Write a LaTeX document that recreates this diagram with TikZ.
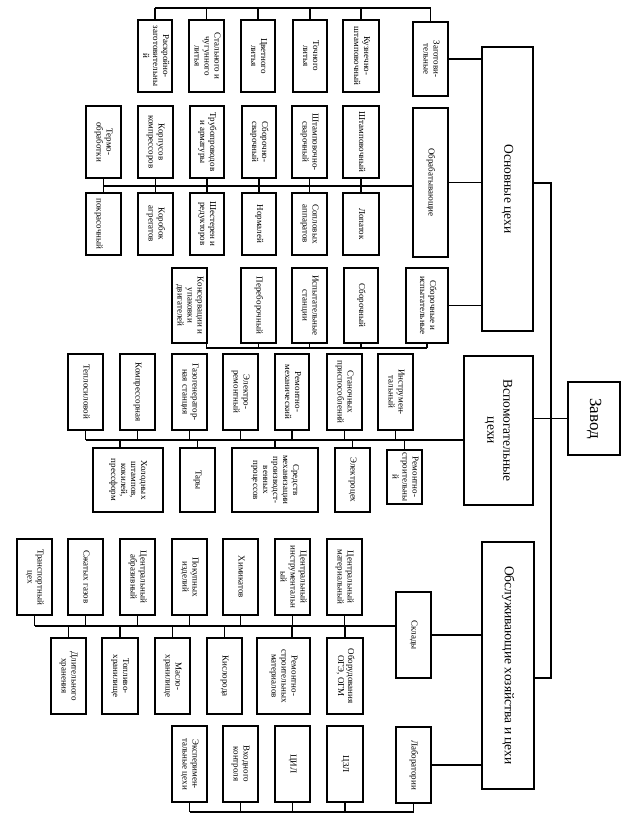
\documentclass[tikz,border=0pt]{standalone}
\usepackage{fontspec}
\setmainfont{Liberation Serif}
\tikzset{
  box/.style={draw, line width=1.1pt, inner sep=0pt, rectangle, font=\fontsize{9}{10}\selectfont},
  bigbox/.style={box, font=\fontsize{13.5}{16}\selectfont},
  ln/.style={line width=1.1pt}
}
\newcommand\rt[1]{\rotatebox{-90}{\begin{tabular}{@{}c@{}}#1\end{tabular}}}
\newcommand\NB[7][box]{\node[#1, minimum width={(#5-#3)*1pt}, minimum height={(#6-#4)*1pt}] (#2) at ({(#3+#5)/2},{(#4+#6)/2}) {\rt{#7}};}
\begin{document}
\begin{tikzpicture}[x=1pt,y=-1pt]
\useasboundingbox (0,0) rectangle (636,822);
% Row A
\NB{rA1}{138}{20}{172}{92}{Раскройно-\\заготовительны\\й}
\NB{rA2}{189}{20}{224}{92}{Стального и\\чугунного\\литья}
\NB{rA3}{241}{20}{275}{92}{Цветного\\литья}
\NB{rA4}{293}{20}{327}{92}{Точного\\литья}
\NB{rA5}{343}{20}{379}{92}{Кузнечно-\\штамповочный}
\NB{zag}{413}{22}{448}{96}{Заготови-\\тельные}
\NB[bigbox]{osn}{482}{47}{533}{331}{Основные цехи}
% Row B upper
\NB{rB1}{86}{106}{121}{178}{Термо-\\обработки}
\NB{rB2}{138}{106}{173}{178}{Корпусов\\компрессоров}
\NB{rB3}{190}{106}{224}{178}{Трубопроводов\\и арматуры}
\NB{rB4}{242}{106}{276}{178}{Сборочно-\\сварочный}
\NB{rB5}{292}{106}{327}{178}{Штамповочно-\\сварочный}
\NB{rB6}{343}{106}{379}{178}{Штамповочный}
\NB{obr}{413}{108}{448}{257}{Обрабатывающие}
% Row B lower
\NB{rb1}{86}{193}{121}{255}{\\покрасочный}
\NB{rb2}{138}{193}{173}{255}{Коробок\\агрегатов}
\NB{rb3}{190}{193}{224}{255}{Шестерен и\\редукторов}
\NB{rb4}{242}{193}{276}{255}{Нормалей}
\NB{rb5}{292}{193}{327}{255}{Сопловых\\аппаратов}
\NB{rb6}{343}{193}{379}{255}{Лопаток}
% Row C
\NB{rC1}{172}{268}{207}{343}{Консервации и\\упаковки\\двигателей}
\NB{rC2}{241}{268}{276}{343}{Переборочный}
\NB{rC3}{292}{268}{327}{343}{Испытательные\\станции}
\NB{rC4}{344}{268}{378}{343}{Сборочный}
\NB{sbi}{406}{268}{448}{343}{Сборочные и\\испытательные}
% Row D upper
\NB{rD1}{68}{354}{103}{430}{Теплосиловой}
\NB{rD2}{120}{354}{155}{430}{Компрессорная}
\NB{rD3}{172}{354}{207}{430}{Газогенератор-\\ная станция}
\NB{rD4}{223}{354}{258}{430}{Электро-\\ремонтный}
\NB{rD5}{275}{354}{309}{430}{Ремонтно-\\механический}
\NB{rD6}{327}{354}{362}{430}{Станочных\\приспособлений}
\NB{rD7}{378}{354}{413}{430}{Инструмен-\\тальный}
\NB[bigbox]{vsp}{464}{356}{533}{505}{Вспомогательные\\цехи}
% Row D lower
\NB{rd1}{93}{448}{163}{512}{Холодных\\штампов,\\кокилей,\\прессформ}
\NB{rd2}{180}{448}{215}{512}{Тары}
\NB{rd3}{232}{448}{318}{512}{Средств\\механизации\\производст-\\венных\\процессов}
\NB{rd4}{335}{448}{370}{512}{Электроцех}
\NB{rd5}{387}{450}{422}{504}{Ремонтно-\\строительны\\й}
% Top level
\node[box, font=\fontsize{17}{20}\selectfont, minimum width=52pt, minimum height=73pt] (zav) at (594,418.5) {\rt{Завод}};
\NB[bigbox]{obs}{482}{542}{534}{789}{Обслуживающие хозяйства и цехи}
\NB{skl}{396}{592}{431}{678}{Склады}
\NB{lab}{396}{727}{431}{803}{Лаборатории}
% Row E upper
\NB{rE1}{17}{539}{52}{615}{Транспортный\\цех}
\NB{rE2}{68}{539}{103}{615}{Сжатых газов}
\NB{rE3}{120}{539}{155}{615}{Центральный\\абразивный}
\NB{rE4}{172}{539}{207}{615}{Покупных\\изделий}
\NB{rE5}{223}{539}{258}{615}{Химикатов}
\NB{rE6}{275}{539}{310}{615}{Центральный\\инструментальн\\ый}
\NB{rE7}{327}{539}{362}{615}{Центральный\\материальный}
% Row E lower
\NB{re1}{51}{638}{86}{714}{Длительного\\хранения}
\NB{re2}{102}{638}{138}{714}{Топливо-\\хранилище}
\NB{re3}{155}{638}{190}{714}{Масло-\\хранилище}
\NB{re4}{207}{638}{242}{714}{Кислорода}
\NB{re5}{257}{638}{310}{714}{Ремонтно-\\строительных\\материалов}
\NB{re6}{327}{638}{363}{714}{Оборудования\\ОГЭ, ОГМ}
% Row F
\NB{rf1}{172}{726}{207}{802}{Эксперимен-\\тальные цехи}
\NB{rf2}{223}{726}{258}{802}{Входного\\контроля}
\NB{rf3}{275}{726}{310}{802}{ЦИЛ}
\NB{rf4}{327}{726}{363}{802}{ЦЗЛ}

% ---- connectors
\coordinate (aL) at (155,8);
\coordinate (bL) at (103.5,186);
\coordinate (cL) at (206,348);
\coordinate (dL) at (85.5,440);
\coordinate (eL) at (34.5,626);
\coordinate (fL) at (189.5,812);
\coordinate (spT) at (551,183);
\coordinate (spB) at (551,678);
\begin{scope}[ln]
\draw (aL) -- (aL -| zag.north);
\foreach \n in {rA1,rA2,rA3,rA4,rA5,zag} \draw (\n.north) -- (\n.north |- aL);
\draw (bL) -- (bL -| obr.west);
\foreach \n in {rB1,rB2,rB3,rB4,rB5,rB6} \draw (\n.south) -- (\n.south |- bL);
\foreach \n in {rb1,rb2,rb3,rb4,rb5,rb6} \draw (\n.north) -- (\n.north |- bL);
\draw (cL) -- (cL -| sbi.south);
\draw ([xshift=-1pt]rC1.south east) -- ([xshift=-1pt]rC1.south east |- cL);
\foreach \n in {rC2,rC3,rC4,sbi} \draw (\n.south) -- (\n.south |- cL);
\draw (zag.east) -- (zag.east -| osn.west);
\draw (obr.east) -- (obr.east -| osn.west);
\draw (sbi.east) -- (sbi.east -| osn.west);
\draw (dL) -- (dL -| vsp.west);
\foreach \n in {rD1,rD2,rD3,rD4,rD5,rD6,rD7} \draw (\n.south) -- (\n.south |- dL);
\draw ([xshift=-8pt]rd1.north) -- ([xshift=-8pt]rd1.north |- dL);
\foreach \n in {rd2,rd3,rd4,rd5} \draw (\n.north) -- (\n.north |- dL);
\draw (spT -| osn.east) -- (spT) -- (spB) -- (spB -| obs.east);
\draw (zav.west) -- (zav.west -| spT);
\draw (vsp.east |- zav.west) -- (zav.west -| spT);
\draw (skl.east) -- (skl.east -| obs.west);
\draw (lab.east) -- (lab.east -| obs.west);
\draw (eL) -- (eL -| skl.west);
\foreach \n in {rE1,rE2,rE3,rE4,rE5,rE6,rE7} \draw (\n.south) -- (\n.south |- eL);
\foreach \n in {re1,re2,re3,re4,re6} \draw (\n.north) -- (\n.north |- eL);
\draw ([xshift=8.5pt]re5.north) -- ([xshift=8.5pt]re5.north |- eL);
\draw (fL) -- (fL -| lab.south);
\foreach \n in {rf1,rf2,rf3,rf4,lab} \draw (\n.south) -- (\n.south |- fL);
\end{scope}
\end{tikzpicture}
\end{document}
